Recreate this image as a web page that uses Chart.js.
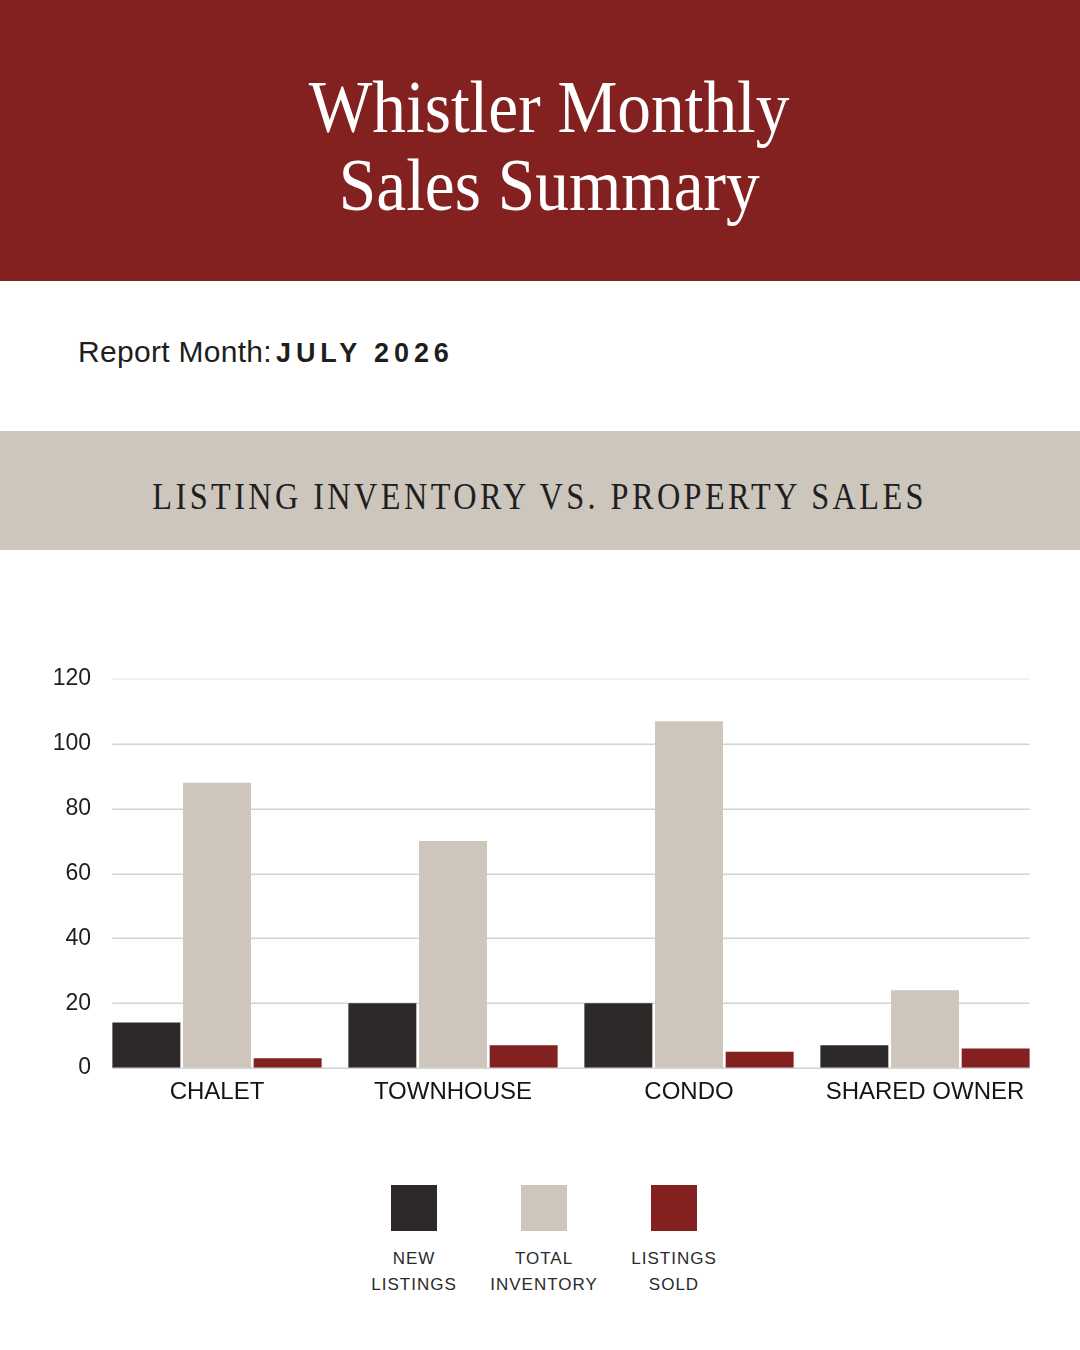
<!DOCTYPE html>
<html>
<head>
<meta charset="utf-8">
<title>Whistler Monthly Sales Summary</title>
<script src="https://cdn.jsdelivr.net/npm/chart.js"></script>
<style>
  html, body { margin: 0; padding: 0; }
  body { width: 1080px; height: 1350px; position: relative; background: #fff; overflow: hidden; font-family: "Liberation Sans", Arial, sans-serif; }
  .header { position: absolute; left: 0; top: 0; width: 1080px; height: 281px; background: #822120; }
  .title { position: absolute; left: 9px; top: 68px; width: 1080px; text-align: center; color: #fff;
           font-family: "Liberation Serif", serif; font-size: 74px; line-height: 78px; }
  .title span { display: inline-block; transform: scaleX(0.91); white-space: nowrap; }
  .report { position: absolute; left: 78px; top: 336px; font-size: 30px; line-height: 32px; color: #1e1e1e; white-space: nowrap; letter-spacing: 0.3px; }
  .report b { font-size: 27px; letter-spacing: 4.9px; margin-left: 4px; }
  .band { position: absolute; left: 0; top: 431px; width: 1080px; height: 119px; background: #cdc6bc; }
  .section { position: absolute; left: 0; top: 477px; width: 1080px; text-align: center; color: #1f1f1f;
             font-family: "Liberation Serif", serif; font-size: 38px; line-height: 38px; }
  .section span { display: inline-block; transform: scaleX(0.85); letter-spacing: 4px; white-space: nowrap; }
  .chart-wrap { position: absolute; left: 0; top: 641px; width: 1080px; height: 477px; }
  .legend { position: absolute; left: 349px; top: 1185px; width: 390px; display: flex; }
  .legend .item { width: 130px; text-align: center; }
  .legend .box { width: 46px; height: 46px; margin: 0 auto 15px auto; }
  .legend .lbl { font-size: 17px; line-height: 26px; letter-spacing: 1px; color: #2a2a2a; }
</style>
</head>
<body>
<div class="header"></div>
<div class="title"><span>Whistler Monthly</span><br><span>Sales Summary</span></div>
<div class="report">Report Month:<b>JULY 2026</b></div>
<div class="band"></div>
<div class="section"><span>LISTING INVENTORY VS. PROPERTY SALES</span></div>
<div class="chart-wrap"><canvas id="chart"></canvas></div>
<div class="legend" id="legend"></div>

<script>
// data
const categories = ['CHALET', 'TOWNHOUSE', 'CONDO', 'SHARED OWNER'];
const newListings = [14, 20, 20, 7];
const totalInventory = [88, 70, 107, 24];
const listingsSold = [3, 7, 5, 6];
const seriesNames = [['NEW', 'LISTINGS'], ['TOTAL', 'INVENTORY'], ['LISTINGS', 'SOLD']];
const seriesColors = ['#2d2928', '#cec6bc', '#822120'];
const yMax = 120;
const yStep = 20;

Chart.defaults.font.family = '"Liberation Sans", Arial, sans-serif';

// gridlines only span the bars, like the original
function barExtent(chart) {
  const first = chart.getDatasetMeta(0).data[0];
  const lastMeta = chart.getDatasetMeta(chart.data.datasets.length - 1);
  const last = lastMeta.data[lastMeta.data.length - 1];
  return [first.x - first.width / 2, last.x + last.width / 2];
}

function drawLines(chart, zeroOnly) {
  const y = chart.scales.y;
  const ctx = chart.ctx;
  const [x0, x1] = barExtent(chart);
  ctx.save();
  ctx.lineWidth = 1.5;
  y.ticks.forEach((t, i) => {
    if (zeroOnly !== (t.value === 0)) return;
    const py = Math.round(y.getPixelForTick(i)) + 0.25;
    ctx.strokeStyle = t.value === yMax ? '#efefef' : '#d3d3d3';
    ctx.beginPath();
    ctx.moveTo(x0, py);
    ctx.lineTo(x1, py);
    ctx.stroke();
  });
  ctx.restore();
}

const gridPlugin = {
  id: 'barGrid',
  beforeDatasetsDraw(chart) { drawLines(chart, false); },
  afterDatasetsDraw(chart) { drawLines(chart, true); }
};

const seriesData = [newListings, totalInventory, listingsSold];

const chart = new Chart(document.getElementById('chart'), {
  type: 'bar',
  data: {
    labels: categories,
    datasets: seriesData.map((d, i) => ({
      label: seriesNames[i].join(' '),
      data: d,
      backgroundColor: seriesColors[i],
      borderWidth: 0,
      categoryPercentage: 0.898,
      barPercentage: 0.962
    }))
  },
  options: {
    responsive: true,
    maintainAspectRatio: false,
    animation: false,
    layout: { padding: { top: 38, right: 37, left: 0, bottom: 0 } },
    plugins: {
      legend: { display: false },
      tooltip: { enabled: false }
    },
    scales: {
      x: {
        grid: { display: false, drawTicks: false },
        border: { display: false },
        ticks: { color: '#151515', font: { size: 24 }, padding: 10 },
        afterFit: s => { s.height = 50; }
      },
      y: {
        min: 0,
        max: yMax,
        grid: { display: false, drawTicks: false },
        border: { display: false },
        ticks: { stepSize: yStep, color: '#1e1e1e', font: { size: 23 }, padding: 8 },
        afterFit: s => { s.width = 99; }
      }
    }
  },
  plugins: [gridPlugin]
});

// legend built from the series arrays
const legend = document.getElementById('legend');
seriesNames.forEach((name, i) => {
  const item = document.createElement('div');
  item.className = 'item';
  item.innerHTML = '<div class="box" style="background:' + seriesColors[i] + '"></div>' +
    '<div class="lbl">' + name.join('<br>') + '</div>';
  legend.appendChild(item);
});
</script>
</body>
</html>
